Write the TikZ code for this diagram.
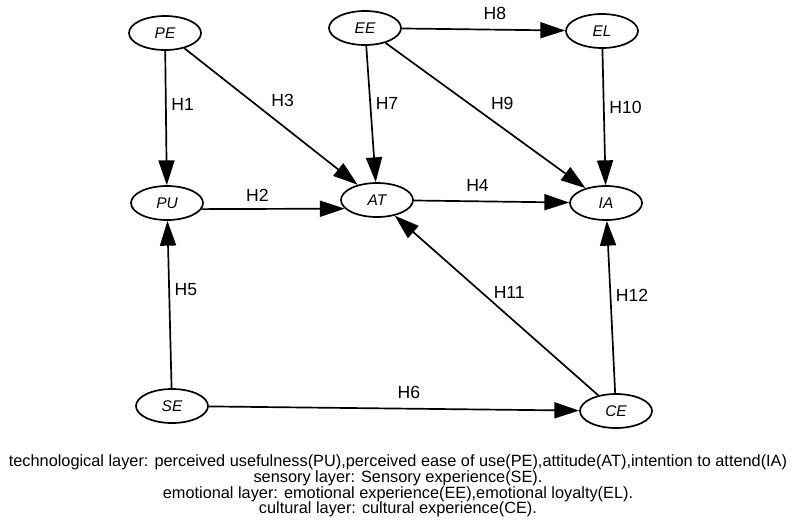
\documentclass[tikz,border=0pt]{standalone}
\usepackage{fontspec}
\setmainfont{Liberation Sans}
\usetikzlibrary{shapes.geometric,arrows.meta}

\begin{document}
\begin{tikzpicture}[x=0.025cm,y=-0.025cm,
  var/.style={draw,ellipse,line width=1.2pt,minimum width=1.8cm,minimum height=0.85cm,inner sep=0pt,font=\fontsize{11}{12}\selectfont\itshape},
  hyp/.style={line width=1.2pt,-{Triangle[length=0.62cm,width=0.4cm]}},
  lab/.style={font=\fontsize{12.5}{14}\selectfont}]
\useasboundingbox (0,0) rectangle (794,529);
\foreach \name/\coord in {PE/{(165,33)},EE/{(365,28)},EL/{(602,31)},PU/{(167,203)},AT/{(377,200)},IA/{(606,203)},SE/{(172,406)},CE/{(616,411)}} {
  \node[var] (\name) at \coord {\name};
}
\draw[hyp] (PE) -- node[lab,right,pos=0.4] {H1} (PU);
\draw[hyp] (PU.-10) -- node[lab,above=1pt,pos=0.39] {H2} (AT.-165);
\draw[hyp] (PE) -- node[lab,above right,pos=0.47] {H3} (AT);
\draw[hyp] (AT) -- node[lab,above=3pt,pos=0.41] {H4} (IA);
\draw[hyp] (SE) -- node[lab,right,pos=0.59] {H5} (PU);
\draw[hyp] (SE) -- node[lab,above=3pt,pos=0.54] {H6} (CE);
\draw[hyp] (EE) -- node[lab,right=0pt,pos=0.42] {H7} (AT);
\draw[hyp] (EE) -- node[lab,above=3pt,pos=0.57] {H8} (EL);
\draw[hyp] (EE) -- node[lab,above right,pos=0.5] {H9} (IA);
\draw[hyp] (EL) -- node[lab,right,pos=0.43] {H10} (IA);
\draw[hyp] (CE) -- node[lab,right=5pt,pos=0.575] {H11} (AT);
\draw[hyp] (CE) -- node[lab,right,pos=0.57] {H12} (IA);
\node[align=center,font=\fontsize{11.6}{11.2}\selectfont] (notes) at (398,486) {technological layer: perceived usefulness(PU),perceived ease of use(PE),attitude(AT),intention to attend(IA)\\
sensory layer: Sensory experience(SE).\\
emotional layer: emotional experience(EE),emotional loyalty(EL).\\
cultural layer: cultural experience(CE).};
\end{tikzpicture}
\end{document}
